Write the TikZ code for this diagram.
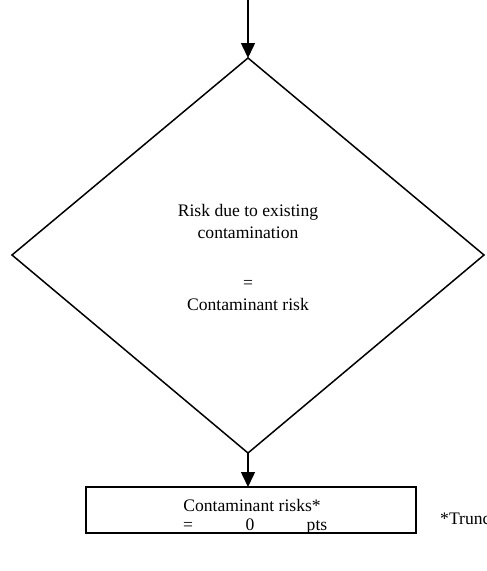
\documentclass[tikz,border=0pt]{standalone}
\usepackage{fontspec}
\setmainfont{Liberation Serif}
\usetikzlibrary{arrows.meta}
\begin{document}
\begin{tikzpicture}[x=1pt,y=-1pt,
  conn/.style={line width=1.5pt,-{Triangle[width=14pt,length=15pt]}},
  txt/.style={font=\fontsize{17.6}{20}\selectfont,inner sep=0pt,anchor=base},
  ]
\useasboundingbox (0,0) rectangle (487,571);
\clip (0,0) rectangle (487,571);
\coordinate (start) at (248,0);
\draw[line width=1.5pt] (248,58) coordinate (dtop) -- (12,255) -- (248,453) coordinate (dbot) -- (484,255) -- cycle;
\node[txt] (l1) at (248,216) {Risk due to existing};
\node[txt] (l2) at (248,238) {contamination};
\node[txt] (l3) at (248,288) {=};
\node[txt] (l4) at (248,310) {Contaminant risk};
\draw[line width=2.6pt] (86,487) rectangle (416,533);
\coordinate (rtop) at (248,487);
\node[txt] (r1) at (252,511) {Contaminant risks*};
\node[txt] (r2) at (188,530) {=};
\node[txt] (r3) at (250,530) {0};
\node[txt] (r4) at (317,530) {pts};
\node[txt,anchor=base west] (note) at (440,524) {*Truncated};
\draw[conn] (start) -- (dtop);
\draw[conn] (dbot) -- (rtop);
\end{tikzpicture}
\end{document}
